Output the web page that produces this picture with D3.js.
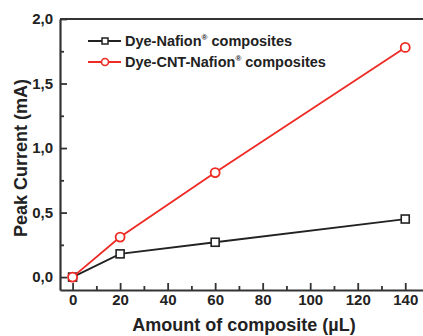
<!DOCTYPE html>
<html>
<head>
<meta charset="utf-8">
<script src="https://cdn.jsdelivr.net/npm/d3@7"></script>
<style>
  body { margin: 0; background: #fff; }
  text { font-family: "Liberation Sans", Arial, sans-serif; font-weight: bold; fill: #222; }
</style>
</head>
<body>
<div id="chart"></div>
<script>
const amounts = [0, 20, 60, 140];
const dyeNafion = [0, 0.18, 0.27, 0.45];
const dyeCntNafion = [0, 0.31, 0.81, 1.78];
const xTicks = [0, 20, 40, 60, 80, 100, 120, 140];
const yTicks = [0, 0.5, 1.0, 1.5, 2.0];
const seriesNames = ["Dye-Nafion", "Dye-CNT-Nafion"];

const width = 423, height = 336;
const margin = {top: 19, right: -6, bottom: 46, left: 60};
const chartWidth = width - margin.left - margin.right;
const chartHeight = height - margin.top - margin.bottom;

const svg = d3.select('#chart')
  .append('svg')
  .attr('width', width)
  .attr('height', height);

const chart = svg.append('g')
  .attr('transform', `translate(${margin.left}, ${margin.top})`);

const scaleX = d3.scaleLinear().domain([-5.3, 150]).range([0, chartWidth]);
const scaleY = d3.scaleLinear().domain([-0.1, 2.0]).range([chartHeight, 0]);

const fmt = d => d3.format('.1f')(d).replace('.', ',');
const axisColor = '#333';

// minor ticks
const minorX = d3.range(10, 150, 20);
const minorY = d3.range(0.25, 2.0, 0.5);

chart.append('g')
  .attr('transform', `translate(0, ${chartHeight})`)
  .call(d3.axisBottom(scaleX).tickValues(xTicks).tickSizeInner(-7).tickSizeOuter(0).tickPadding(4));
chart.append('g')
  .attr('transform', `translate(0, ${chartHeight})`)
  .call(d3.axisBottom(scaleX).tickValues(minorX).tickSizeInner(-4).tickSizeOuter(0).tickFormat(''))
  .select('.domain').remove();

chart.append('g')
  .call(d3.axisLeft(scaleY).tickValues(yTicks).tickFormat(fmt).tickSizeInner(-7).tickSizeOuter(0).tickPadding(7));
chart.append('g')
  .call(d3.axisLeft(scaleY).tickValues(minorY).tickSizeInner(-4).tickSizeOuter(0).tickFormat(''))
  .select('.domain').remove();

chart.selectAll('.domain').attr('stroke', axisColor).attr('stroke-width', 2.2);
chart.selectAll('.tick line').attr('stroke', axisColor).attr('stroke-width', 1.8);
chart.selectAll('.tick text').style('font-size', '15px').attr('fill', '#222');

// top frame line
chart.append('line')
  .attr('x1', 0).attr('x2', chartWidth)
  .attr('y1', 0).attr('y2', 0)
  .attr('stroke', axisColor).attr('stroke-width', 2.2);

const line = d3.line()
  .x((d, i) => scaleX(amounts[i]))
  .y(d => scaleY(d));

// black series
chart.append('path')
  .datum(dyeNafion)
  .attr('fill', 'none')
  .attr('stroke', '#222')
  .attr('stroke-width', 1.8)
  .attr('d', line);
chart.selectAll('.sq')
  .data(dyeNafion)
  .join('rect')
  .attr('class', 'sq')
  .attr('x', (d, i) => scaleX(amounts[i]) - 4)
  .attr('y', d => scaleY(d) - 4)
  .attr('width', 8).attr('height', 8)
  .attr('fill', '#fff').attr('stroke', '#222').attr('stroke-width', 1.6);

// red series
chart.append('path')
  .datum(dyeCntNafion)
  .attr('fill', 'none')
  .attr('stroke', '#ee2a24')
  .attr('stroke-width', 1.8)
  .attr('d', line);
chart.selectAll('.circ')
  .data(dyeCntNafion)
  .join('circle')
  .attr('class', 'circ')
  .attr('cx', (d, i) => scaleX(amounts[i]))
  .attr('cy', d => scaleY(d))
  .attr('r', 4.5)
  .attr('fill', '#fff').attr('stroke', '#ee2a24').attr('stroke-width', 1.8);

// legend
const legend = svg.append('g').attr('transform', 'translate(88, 41)');
const legendItems = [
  {name: seriesNames[0], color: '#222', shape: 'square'},
  {name: seriesNames[1], color: '#ee2a24', shape: 'circle'}
];
legendItems.forEach((item, i) => {
  const g = legend.append('g').attr('transform', `translate(0, ${i * 21})`);
  g.append('line').attr('x1', 0).attr('x2', 33).attr('y1', 0).attr('y2', 0)
    .attr('stroke', item.color).attr('stroke-width', 1.8);
  if (item.shape === 'square') {
    g.append('rect').attr('x', 14).attr('y', -3).attr('width', 6).attr('height', 6)
      .attr('fill', '#fff').attr('stroke', item.color).attr('stroke-width', 1.5);
  } else {
    g.append('circle').attr('cx', 17).attr('cy', 0).attr('r', 3.5)
      .attr('fill', '#fff').attr('stroke', item.color).attr('stroke-width', 1.6);
  }
  const t = g.append('text').attr('x', 37).attr('y', 5).style('font-size', '14.5px');
  t.append('tspan').text(item.name);
  t.append('tspan').text('®').attr('dy', -6).style('font-size', '8px');
  t.append('tspan').text(' composites').attr('dy', 6);
});

// axis titles
svg.append('text')
  .attr('x', 244).attr('y', 331)
  .attr('text-anchor', 'middle')
  .style('font-size', '18px')
  .text('Amount of composite (\u00b5L)');

svg.append('text')
  .attr('transform', 'translate(27, 158) rotate(-90)')
  .attr('text-anchor', 'middle')
  .style('font-size', '18px')
  .text('Peak Current (mA)');
</script>
</body>
</html>
